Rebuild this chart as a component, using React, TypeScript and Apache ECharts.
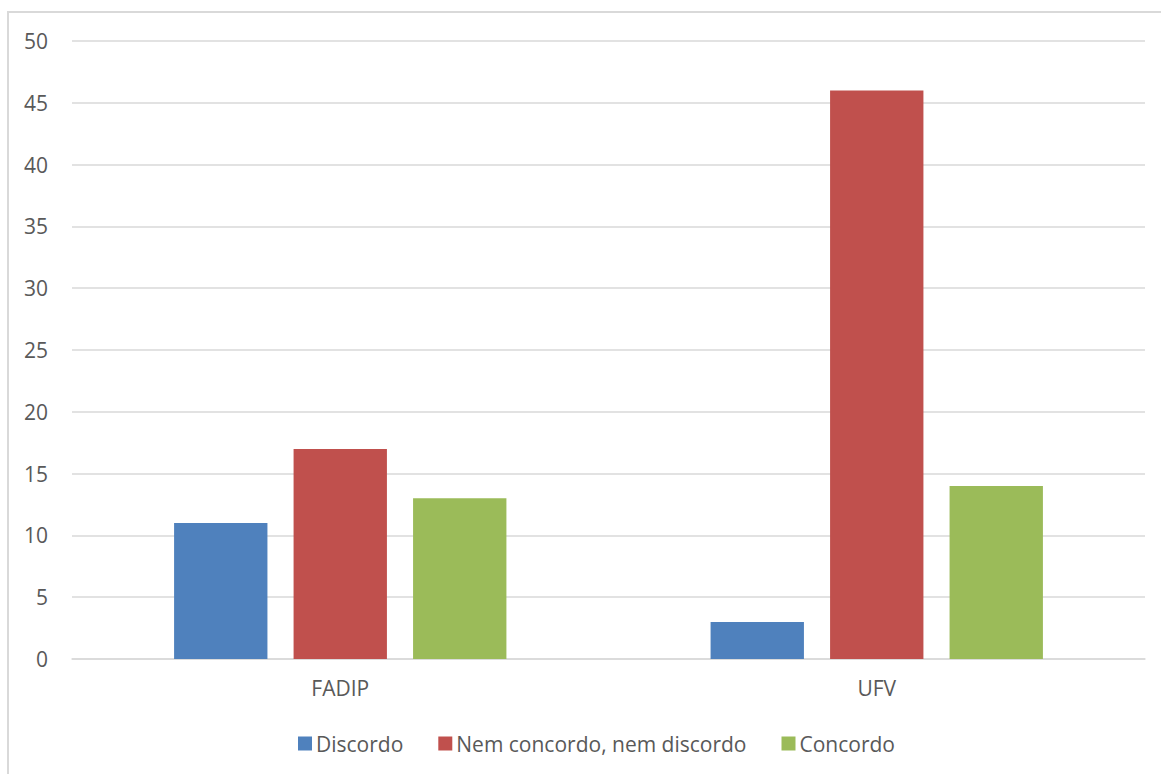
import React, { useEffect, useRef } from "react";
import * as echarts from "echarts";

const categories = ["FADIP", "UFV"];
const discordo = [11, 3];
const nemNem = [17, 46];
const concordo = [13, 14];
const seriesNames = ["Discordo", "Nem concordo, nem discordo", "Concordo"];
const colors = ["#4F81BD", "#C0504D", "#9BBB59"];

const FONT = "'Open Sans', 'Noto Sans', sans-serif";

export default function App() {
  const ref = useRef<HTMLDivElement>(null);
  useEffect(() => {
    if (!ref.current) return;
    const chart = echarts.init(ref.current, undefined, { renderer: "svg" });
    const values = [discordo, nemNem, concordo];
    chart.setOption({
      animation: false,
      textStyle: { fontFamily: FONT },
      grid: { left: 72, right: 16, top: 41, bottom: 115, containLabel: false },
      legend: {
        top: 728,
        left: 293,
        padding: [5, 5, 5, 5],
        itemWidth: 14,
        itemHeight: 14,
        itemGap: 35,
        icon: "rect",
        textStyle: { fontSize: 21, color: "#595959", fontFamily: FONT, padding: [0, 0, 0, -1] },
        data: seriesNames,
      },
      xAxis: {
        type: "category",
        data: categories,
        axisLine: { lineStyle: { color: "#D9D9D9", width: 1.5 } },
        axisTick: { show: false },
        axisLabel: { fontSize: 21, color: "#595959", margin: 18, fontFamily: FONT },
      },
      yAxis: {
        type: "value",
        min: 0,
        max: 50,
        interval: 5,
        axisLine: { show: false },
        axisTick: { show: false },
        splitLine: { lineStyle: { color: "#D9D9D9", width: 1.5 } },
        axisLabel: { fontSize: 21, color: "#595959", margin: 24, fontFamily: FONT },
      },
      series: seriesNames.map((name, i) => ({
        name,
        type: "bar",
        data: values[i],
        barWidth: "17.4%",
        barGap: "28%",
        barCategoryGap: "38%",
        itemStyle: { color: colors[i] },
      })),
    });
    return () => chart.dispose();
  }, []);
  return (
    <div style={{ position: "fixed", left: 0, top: 0, width: 1161, height: 774, overflow: "hidden", background: "#fff" }}>
      <div ref={ref} style={{ position: "absolute", left: 0, top: 0, width: 1161, height: 774 }} />
      <div
        style={{
          position: "absolute",
          left: 7,
          top: 11,
          width: 1300,
          height: 900,
          border: "2px solid #D9D9D9",
          pointerEvents: "none",
        }}
      />
    </div>
  );
}
